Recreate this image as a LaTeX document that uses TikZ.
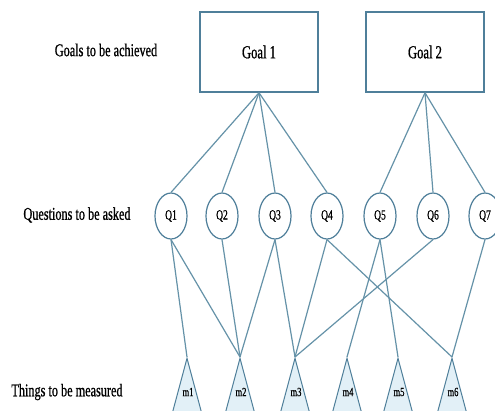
\documentclass[tikz,border=0pt]{standalone}
\usepackage{fontspec}
\setmainfont{Liberation Serif}[FakeStretch=0.68, FakeBold=0.8]
\usetikzlibrary{shapes.geometric}
\definecolor{edgeblue}{HTML}{6592A8}
\definecolor{boxblue}{HTML}{4F7F9A}
\definecolor{trifill}{HTML}{E2F0F7}
\tikzset{
  goalbox/.style={draw=boxblue, line width=1.5pt, fill=white, minimum width=118pt, minimum height=80pt, inner sep=0pt, font=\fontsize{18.5}{20}\selectfont},
  qnode/.style={ellipse, draw=boxblue, line width=1.2pt, fill=white, minimum width=32pt, minimum height=46pt, inner sep=0pt, font=\fontsize{14}{16}\selectfont},
  mtri/.style={isosceles triangle, isosceles triangle stretches, shape border rotate=90, draw=boxblue, line width=1pt, fill=trifill, minimum height=56pt, minimum width=30pt, inner sep=0pt, anchor=apex},
  mtext/.style={font=\fontsize{12.5}{14}\selectfont, inner sep=0pt},
  rowlabel/.style={font=\fontsize{18}{20}\selectfont, inner sep=0pt},
  link/.style={draw=edgeblue, line width=1.2pt}
}
\begin{document}
\begin{tikzpicture}[x=1pt, y=-1pt]
  \useasboundingbox (0,0) rectangle (495,410);
  \fill[white] (0,0) rectangle (495,410);

  % row captions
  \node[rowlabel] (lgoal) at (106,50) {Goals to be achieved};
  \node[rowlabel] (lques) at (77,215) {Questions to be asked};
  \node[rowlabel] (lmeas) at (67,392) {Things to be measured};

  % measures: triangles with the apex on top
  \foreach \i/\x in {1/187, 2/240, 3/295, 4/347, 5/398, 6/452} {
    \node[mtri] (m\i) at (\x,357) {};
    \node[mtext] (mt\i) at (\x+1,392) {m\i};
  }

  % goals
  \node[goalbox] (g1) at (259,52) {Goal 1};
  \node[goalbox] (g2) at (425,52) {Goal 2};

  % questions
  \foreach \i/\x in {1/171, 2/222, 3/275, 4/327, 5/380, 6/433, 7/485} {
    \node[qnode] (q\i) at (\x,216) {Q\i};
  }

  % goal -> question links
  \foreach \q in {1,2,3,4} \draw[link] (g1.south) -- (q\q.north);
  \foreach \q in {5,6,7} \draw[link] (g2.south) -- (q\q.north);

  % question -> measure links
  \foreach \q/\m in {1/1, 1/2, 2/2, 3/2, 3/3, 4/3, 4/6, 5/4, 5/5, 6/3, 7/6}
    \draw[link] (q\q.south) -- (m\m.apex);
\end{tikzpicture}
\end{document}
